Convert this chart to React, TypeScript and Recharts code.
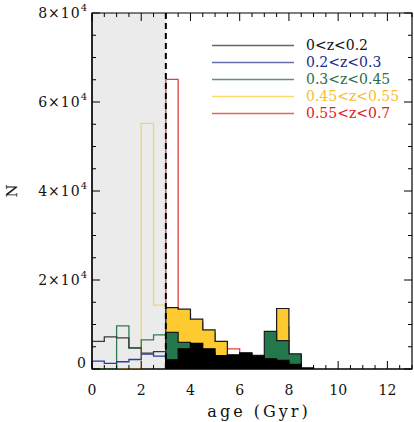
import React from 'react';
import {
  ComposedChart,
  Area,
  Line,
  XAxis,
  YAxis,
  ReferenceArea,
  ReferenceLine,
  Legend,
} from 'recharts';

// ---- data (bin width 0.5 Gyr) ----
const BIN = 0.5;
const LOW_START = 0; // bins 0 .. 3 Gyr (shaded region, outlines only)
const HIGH_START = 3; // bins 3 .. 9 Gyr (filled histograms)

const blackLow = [6200, 7200, 7000, 4750, 3550, 3900];
const blueLow = [1750, 1250, 1630, 2140, 3330, 2880];
const greenLow = [0, 0, 9670, 4700, 6540, 7650];
const yellowLow = [0, 0, 0, 0, 55200, 14350];

const blackHigh = [2070, 4530, 5780, 4530, 3000, 3200, 3640, 2880, 2300, 1920, 1030, 250];
const greenHigh = [8240, 6000, 4200, 3600, 2600, 2600, 2600, 3040, 8460, 6380, 3400];
const yellowHigh = [13800, 13450, 11200, 8770, 6230, 2800, 2800, 2500, 2500, 13600, 3000];
const redHigh = [65100, 12500, 10500, 8000, 5600, 4530, 3400, 2700, 2400, 9500, 3200];

const xTicks = Array.from({ length: 27 }, (_, i) => i * 0.5);
const xMajor = [0, 2, 4, 6, 8, 10, 12];
const yTicks = Array.from({ length: 17 }, (_, i) => i * 5000);
const yMajorLabels: Record<number, string[]> = {
  0: ['0', ''],
  20000: ['2×10', '4'],
  40000: ['4×10', '4'],
  60000: ['6×10', '4'],
  80000: ['8×10', '4'],
};

const legendLabels = ['0<z<0.2', '0.2<z<0.3', '0.3<z<0.45', '0.45<z<0.55', '0.55<z<0.7'];
const legendLineColors = ['#666666', '#6470b0', '#5b9478', '#f8dc6a', '#e2675e'];
const legendTextColors = ['#111111', '#1c2a8c', '#2a6e48', '#f5c030', '#e02020'];

// ---- helpers building step data from bins ----
function lowSeries(bins: number[]) {
  const pts = bins.map((v, i) => ({ x: LOW_START + i * BIN, v }));
  pts.push({ x: LOW_START + bins.length * BIN, v: bins[bins.length - 1] });
  return pts;
}
function highSeries(bins: number[]) {
  const pts = [{ x: HIGH_START, v: 0 }];
  bins.forEach((v, i) => pts.push({ x: HIGH_START + i * BIN, v }));
  pts.push({ x: HIGH_START + bins.length * BIN, v: 0 });
  return pts;
}

const W = 414;
const H = 422;
const PLOT_LEFT = 92;
const PLOT_RIGHT = 412;
const PLOT_TOP = 13;
const PLOT_BOTTOM = 369;
const FONT = '"DejaVu Serif", serif';

const XTick = (props: any) => {
  const { x, payload } = props;
  const val = payload.value;
  const major = Math.abs(val / 2 - Math.round(val / 2)) < 1e-6;
  const len = major ? 8 : 4;
  return (
    <g>
      <line x1={x} x2={x} y1={PLOT_BOTTOM} y2={PLOT_BOTTOM - len} stroke="#000" strokeWidth={1} />
      <line x1={x} x2={x} y1={PLOT_TOP} y2={PLOT_TOP + len} stroke="#000" strokeWidth={1} />
      {major && xMajor.includes(val) ? (
        <text x={x} y={395} textAnchor="middle" fontFamily={FONT} fontSize={14} fill="#111">
          {String(val)}
        </text>
      ) : null}
    </g>
  );
};

const YTick = (props: any) => {
  const { y, payload } = props;
  const val = payload.value;
  const lab = yMajorLabels[val];
  const len = lab ? 8 : 4;
  const baseline = val === 0 ? 368 : y + 5;
  return (
    <g>
      <line x1={PLOT_LEFT} x2={PLOT_LEFT + len} y1={y} y2={y} stroke="#000" strokeWidth={1} />
      <line x1={PLOT_RIGHT} x2={PLOT_RIGHT - len} y1={y} y2={y} stroke="#000" strokeWidth={1} />
      {lab ? (
        <text
          x={87}
          y={baseline}
          textAnchor="end"
          fontFamily={FONT}
          fontSize={14}
          letterSpacing={1}
          fill="#111"
        >
          <tspan>{lab[0]}</tspan>
          {lab[1] ? (
            <tspan dy={-7} fontSize={10} letterSpacing={0}>
              {lab[1]}
            </tspan>
          ) : null}
        </text>
      ) : null}
    </g>
  );
};

const NLabel = () => (
  <text
    x={12}
    y={191}
    transform="rotate(-90 12 191)"
    textAnchor="middle"
    dominantBaseline="central"
    fontFamily={FONT}
    fontSize={15}
    fill="#111"
  >
    N
  </text>
);

const XTitle = () => (
  <text
    x={259}
    y={417}
    textAnchor="middle"
    fontFamily={FONT}
    fontSize={16}
    letterSpacing={3}
    fill="#111"
  >
    age (Gyr)
  </text>
);

const LegendContent = () => (
  <div style={{ fontFamily: FONT, fontSize: 14 }}>
    {legendLabels.map((l, i) => (
      <div key={l} style={{ display: 'flex', alignItems: 'center', height: 17 }}>
        <svg width={82} height={17} style={{ display: 'block', flex: 'none' }}>
          <line x1={0} x2={82} y1={8.5} y2={8.5} stroke={legendLineColors[i]} strokeWidth={1.5} />
        </svg>
        <div style={{ marginLeft: 12, color: legendTextColors[i], lineHeight: '17px', whiteSpace: 'nowrap' }}>
          {l}
        </div>
      </div>
    ))}
  </div>
);

export default function App() {
  return (
    <div style={{ position: 'absolute', left: 0, top: 0, width: W, height: H, background: '#fff' }}>
      <ComposedChart width={W} height={H} margin={{ top: PLOT_TOP, right: W - PLOT_RIGHT, left: 0, bottom: 0 }}>
        <XAxis
          type="number"
          dataKey="x"
          domain={[0, 13]}
          ticks={xTicks}
          interval={0}
          allowDataOverflow
          height={H - PLOT_BOTTOM}
          tickLine={false}
          axisLine={{ stroke: '#000', strokeWidth: 1.2 }}
          tick={(p: any) => <XTick {...p} />}
          label={() => <XTitle />}
        />
        <YAxis
          type="number"
          dataKey="v"
          domain={[0, 80000]}
          ticks={yTicks}
          interval={0}
          allowDataOverflow
          width={PLOT_LEFT}
          tickLine={false}
          axisLine={{ stroke: '#000', strokeWidth: 1.2 }}
          tick={(p: any) => <YTick {...p} />}
          label={() => <NLabel />}
        />
        <ReferenceArea x1={0} x2={3} y1={0} y2={80000} fill="#ebebeb" fillOpacity={1} stroke="none" />

        {/* filled histograms beyond 3 Gyr */}
        <Area data={highSeries(redHigh)} dataKey="v" type="stepAfter" stroke="#d9443a" strokeWidth={1.3} fill="#ffffff" fillOpacity={1} isAnimationActive={false} />
        <Area data={highSeries(yellowHigh)} dataKey="v" type="stepAfter" stroke="#1a1a1a" strokeWidth={1.2} fill="#fdcb30" fillOpacity={1} isAnimationActive={false} />
        <Area data={highSeries(greenHigh)} dataKey="v" type="stepAfter" stroke="#1a1a1a" strokeWidth={1.2} fill="#22784a" fillOpacity={1} isAnimationActive={false} />
        <Area data={highSeries(blackHigh)} dataKey="v" type="stepAfter" stroke="#000" strokeWidth={1.2} fill="#000" fillOpacity={1} isAnimationActive={false} />

        {/* outline histograms below 3 Gyr */}
        <Line data={lowSeries(yellowLow)} dataKey="v" type="stepAfter" stroke="#f3d36b" strokeWidth={1.3} dot={false} activeDot={false} isAnimationActive={false} />
        <Line data={lowSeries(greenLow)} dataKey="v" type="stepAfter" stroke="#2d7d52" strokeWidth={1.3} dot={false} activeDot={false} isAnimationActive={false} />
        <Line data={lowSeries(blackLow)} dataKey="v" type="stepAfter" stroke="#3a3a3a" strokeWidth={1.3} dot={false} activeDot={false} isAnimationActive={false} />
        <Line data={lowSeries(blueLow)} dataKey="v" type="stepAfter" stroke="#2b3d9a" strokeWidth={1.3} dot={false} activeDot={false} isAnimationActive={false} />

        <ReferenceArea x1={0} x2={13} y1={0} y2={80000} fill="none" stroke="#000" strokeWidth={1.2} />
        <ReferenceLine x={3} stroke="#000" strokeWidth={2} strokeDasharray="6 4" />
        <Legend
          layout="horizontal"
          verticalAlign="middle"
          align="center"
          content={() => <LegendContent />}
          wrapperStyle={{ position: 'absolute', top: 37, left: 212, width: 200 }}
        />
      </ComposedChart>
    </div>
  );
}
